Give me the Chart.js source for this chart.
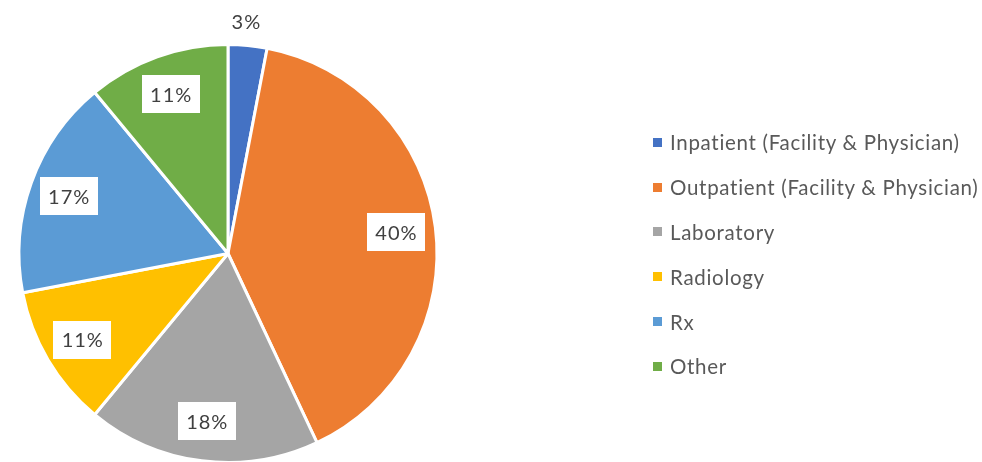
<!DOCTYPE html>
<html>
<head>
<meta charset="utf-8">
<script src="https://cdn.jsdelivr.net/npm/chart.js@4/dist/chart.umd.min.js"></script>
<style>
  html, body { margin: 0; padding: 0; background: #fff; overflow: hidden; }
  #wrap { position: relative; width: 982px; height: 462px; }
  #pie { position: absolute; left: 0; top: 0; }
  #legend { position: absolute; left: 653px; top: 120px; margin: 0; padding: 0; list-style: none;
            font-family: Lato, 'Open Sans', sans-serif; font-size: 20.5px; letter-spacing: 0.7px;
            font-variant-ligatures: none; color: #595959; }
  #legend li { height: 44.8px; display: flex; align-items: center; white-space: nowrap; }
  #legend i { display: inline-block; width: 9px; height: 9px; margin-right: 8px; }
</style>
</head>
<body>
<div id="wrap">
  <canvas id="pie" width="982" height="464"></canvas>
  <ul id="legend"></ul>
</div>
<script>
  const categories = [
    'Inpatient (Facility & Physician)',
    'Outpatient (Facility & Physician)',
    'Laboratory',
    'Radiology',
    'Rx',
    'Other',
  ];
  const shares = [3, 40, 18, 11, 17, 11];
  const colors = ['#4472C4', '#ED7D31', '#A5A5A5', '#FFC000', '#5B9BD5', '#70AD47'];

  // data labels: wit kader binnen de taart, kleine stukken erbuiten
  const sliceLabels = {
    id: 'sliceLabels',
    afterDatasetsDraw(chart) {
      const ctx = chart.ctx;
      const meta = chart.getDatasetMeta(0);
      const total = shares.reduce((s, v) => s + v, 0);
      ctx.save();
      ctx.font = '20px Lato, "Open Sans", sans-serif';
      ctx.letterSpacing = '1px';
      ctx.textAlign = 'center';
      ctx.textBaseline = 'middle';
      meta.data.forEach((arc, i) => {
        const p = arc.getProps(['x', 'y', 'startAngle', 'endAngle', 'outerRadius'], true);
        const mid = (p.startAngle + p.endAngle) / 2;
        const small = shares[i] / total < 0.05;
        const d = small ? p.outerRadius + 24 : p.outerRadius * 0.81;
        const x = p.x + Math.cos(mid) * d - (small ? 4 : 0);
        const y = p.y + Math.sin(mid) * d;
        const txt = shares[i] + '%';
        if (!small) {
          const w = ctx.measureText(txt).width + 16;
          ctx.fillStyle = '#fff';
          ctx.fillRect(Math.round(x - w / 2), Math.round(y - 19), Math.round(w), 38);
        }
        ctx.fillStyle = '#404040';
        ctx.fillText(txt, x + 0.5, y + 1);
      });
      ctx.restore();
    },
  };

  new Chart(document.getElementById('pie'), {
    type: 'pie',
    data: {
      labels: categories,
      datasets: [{
        data: shares,
        backgroundColor: colors,
        borderColor: '#fff',
        borderWidth: 3,
        hoverOffset: 0,
      }],
    },
    options: {
      responsive: false,
      animation: false,
      layout: { padding: { left: 17, top: 43, right: 543, bottom: 0 } },
      plugins: { legend: { display: false }, tooltip: { enabled: false } },
    },
    plugins: [sliceLabels],
  });

  const legend = document.getElementById('legend');
  categories.forEach((c, i) => {
    const li = document.createElement('li');
    const box = document.createElement('i');
    box.style.background = colors[i];
    li.appendChild(box);
    li.appendChild(document.createTextNode(c));
    legend.appendChild(li);
  });
</script>
</body>
</html>
